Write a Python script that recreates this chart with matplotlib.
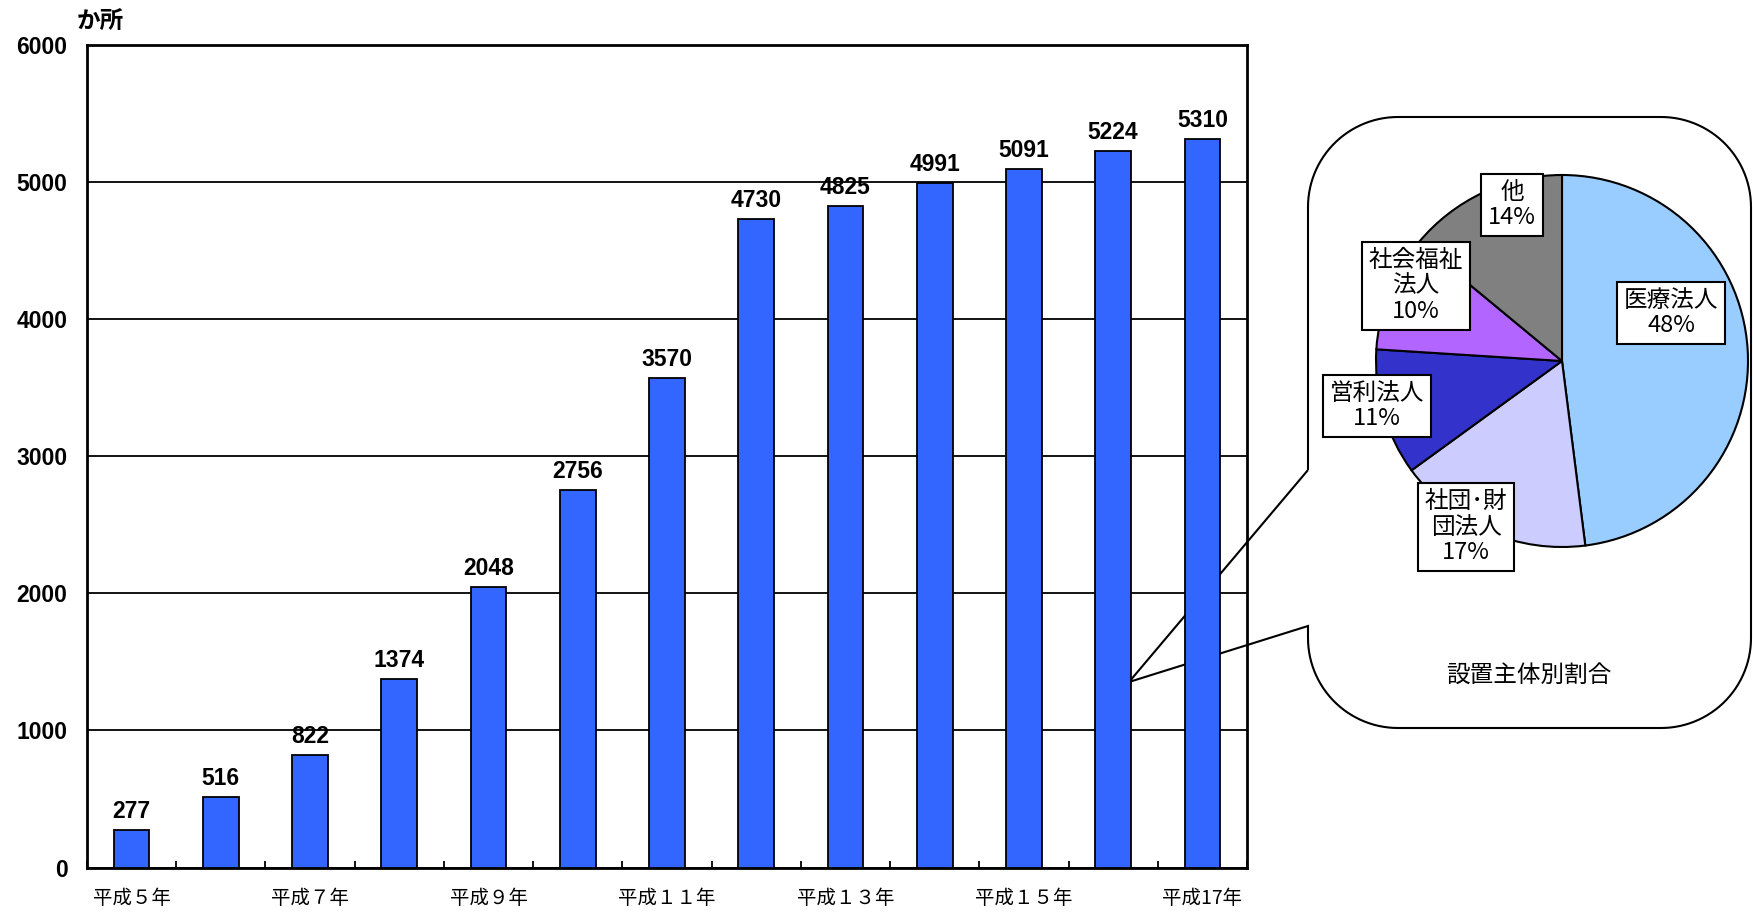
import numpy as np
import matplotlib
matplotlib.use('Agg')
import matplotlib.pyplot as plt
from matplotlib.patches import PathPatch
from matplotlib.path import Path

plt.rcParams['font.family'] = ['Noto Sans CJK JP', 'DejaVu Sans']

# data
years = ['平成５年', '平成６年', '平成７年', '平成８年', '平成９年', '平成１０年', '平成１１年',
         '平成１２年', '平成１３年', '平成１４年', '平成１５年', '平成１６年', '平成17年']
counts = [277, 516, 822, 1374, 2048, 2756, 3570, 4730, 4825, 4991, 5091, 5224, 5310]

pie_labels = ['医療法人', '社団･財\n団法人', '営利法人', '社会福祉\n法人', '他']
pie_share = [48, 17, 11, 10, 14]
pie_colors = ['#99CCFF', '#CCCCFF', '#3333CC', '#B266FF', '#808080']

W, H = 1753, 923
num_font = 'Liberation Sans'

fig = plt.figure(figsize=(W / 100, H / 100), dpi=100)
fig.patch.set_facecolor('white')

# overlay axes in pixel coords (y up) for the callout + pie
ax_c = fig.add_axes([0, 0, 1, 1], zorder=0)

# main bar chart
ax = fig.add_axes([87 / W, 1 - 867.6 / H, (1247 - 87) / W, (867.6 - 44.7) / H], zorder=1)
ax.set_facecolor('none')

x = np.arange(len(years))
ax.bar(x, counts, width=0.4, color='#3366FF', edgecolor='black', linewidth=1.3, zorder=3)
for i, v in zip(x, counts):
    ax.annotate(str(v), (i, v), xytext=(0, 5), textcoords='offset points',
                ha='center', va='bottom', fontsize=16.5, fontweight='bold', family=num_font)

ax.set_xlim(-0.5, len(years) - 0.5)
ax.set_ylim(0, 6000)
yt = list(range(0, 6001, 1000))
ax.set_yticks(yt, [str(t) for t in yt], fontsize=16.5, fontweight='bold', family=num_font)
ax.yaxis.grid(True, color='black', linewidth=1.3)
ax.set_axisbelow(True)
ax.tick_params(axis='y', length=0, pad=14)

ax.set_xticks(x, [y if i % 2 == 0 else '' for i, y in enumerate(years)], fontsize=14)
ax.set_xticks(np.arange(-0.5, len(years), 1), minor=True)
ax.tick_params(axis='x', which='major', length=0, pad=15)
ax.tick_params(axis='x', which='minor', direction='in', length=5, width=1.3)
for s in ax.spines.values():
    s.set_linewidth(2)

fig.text(100 / W, 1 - 21 / H, 'か所', fontsize=17, fontweight='bold', ha='center', va='center')

# callout box (pixel coords, top origin -> flipped)
L, T, R, B, rad = 1308, 117, 1751, 728, 90
tip = (1129, 682)


def arc(cx, cy, r, a0, a1):
    a = np.radians(np.linspace(a0, a1, 30))
    return list(zip(cx + r * np.cos(a), cy + r * np.sin(a)))


pts = [(L, 470), (L, T + rad)]
pts += arc(L + rad, T + rad, rad, 180, 270)
pts += [(R - rad, T)]
pts += arc(R - rad, T + rad, rad, 270, 360)
pts += [(R, B - rad)]
pts += arc(R - rad, B - rad, rad, 0, 90)
pts += [(L + rad, B)]
pts += arc(L + rad, B - rad, rad, 90, 180)
pts += [(L, 626), tip, (L, 470)]
pts = [(px, H - py) for px, py in pts]
ax_c.add_patch(PathPatch(Path(pts), facecolor='white', edgecolor='black', linewidth=1.5, zorder=0.5))

ax_c.pie(pie_share, colors=pie_colors, startangle=90, counterclock=False,
         center=(1562, H - 361), radius=186,
         wedgeprops=dict(edgecolor='black', linewidth=1.5))
ax_c.set_xlim(0, W)
ax_c.set_ylim(0, H)
ax_c.set_aspect('auto')
ax_c.set_axis_off()

label_pos = [(1671, 313), (1466, 527), (1377, 406), (1416, 286), (1512, 205)]
for lab, pct, (lx, ly) in zip(pie_labels, pie_share, label_pos):
    ax_c.text(lx, H - ly, f'{lab}\n{pct}%', ha='center', va='center', fontsize=17,
              linespacing=1.15, zorder=5,
              bbox=dict(boxstyle='square,pad=0.3', facecolor='white', edgecolor='black', linewidth=1.5))

ax_c.text(1529, H - 675, '設置主体別割合', ha='center', va='center', fontsize=17)

fig.savefig('out.png', dpi=100)
